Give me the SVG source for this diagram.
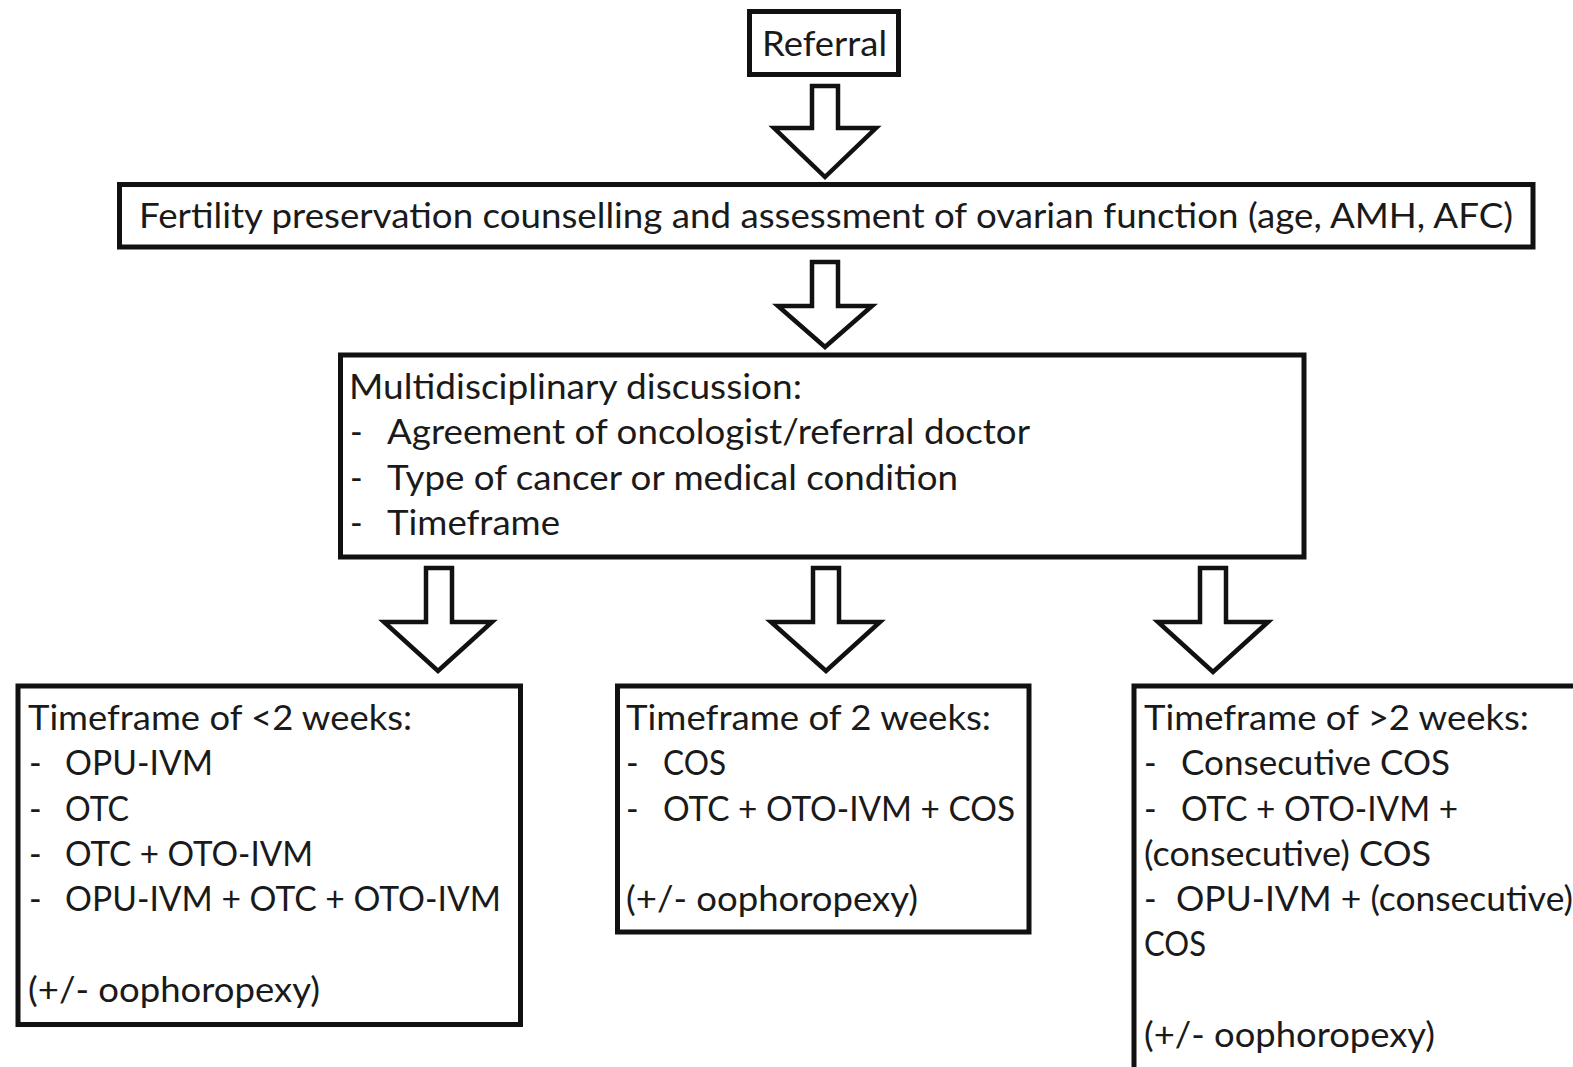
<svg xmlns="http://www.w3.org/2000/svg" width="1573" height="1067" viewBox="0 0 1573 1067">
<style>
  .box { fill: #ffffff; stroke: #111111; stroke-width: 5; }
  .arrow { fill: #ffffff; stroke: #111111; stroke-width: 4.5; stroke-linejoin: miter; }
  text { font-family: Lato, "Liberation Sans", sans-serif; font-size: 34px; fill: #1a1a1a; }
</style>
<rect width="1573" height="1067" fill="#ffffff"/>
<g id="connectors">
  <polygon class="arrow" points="812,86 838,86 838,128 876,128 825,177 774,128 812,128"/>
  <polygon class="arrow" points="812,262 838,262 838,306 872,306 825,347 778,306 812,306"/>
  <polygon class="arrow" points="426,568 452,568 452,622 492,622 438,671 384,622 426,622"/>
  <polygon class="arrow" points="813,568 839,568 839,622 880,622 826,671 771,622 813,622"/>
  <polygon class="arrow" points="1200,568 1226,568 1226,622 1268,622 1213,672 1158,622 1200,622"/>
</g>
<g id="referral">
  <rect class="box" x="749.5" y="11.5" width="149" height="63"/>
  <text x="762" y="56" textLength="125" lengthAdjust="spacingAndGlyphs">Referral</text>
</g>
<g id="counselling">
  <rect class="box" x="119.5" y="184.5" width="1413.5" height="62.5"/>
  <text x="139" y="228" textLength="1374" lengthAdjust="spacingAndGlyphs">Fertility preservation counselling and assessment of ovarian function (age, AMH, AFC)</text>
</g>
<g id="discussion">
  <rect class="box" x="340.5" y="355" width="963.5" height="202"/>
  <text x="349" y="399" textLength="453" lengthAdjust="spacingAndGlyphs">Multidisciplinary discussion:</text>
  <text x="350" y="444">-</text>
  <text x="387" y="444" textLength="643" lengthAdjust="spacingAndGlyphs">Agreement of oncologist/referral doctor</text>
  <text x="350" y="490">-</text>
  <text x="387" y="490" textLength="571" lengthAdjust="spacingAndGlyphs">Type of cancer or medical condition</text>
  <text x="350" y="535">-</text>
  <text x="387" y="535" textLength="173" lengthAdjust="spacingAndGlyphs">Timeframe</text>
</g>
<g id="under2weeks">
  <rect class="box" x="18" y="686" width="502.5" height="338.5"/>
  <text x="28" y="730" textLength="384" lengthAdjust="spacingAndGlyphs">Timeframe of &lt;2 weeks:</text>
  <text x="29" y="775">-</text>
  <text x="65" y="775" textLength="148" lengthAdjust="spacingAndGlyphs">OPU-IVM</text>
  <text x="29" y="821">-</text>
  <text x="65" y="821" textLength="64" lengthAdjust="spacingAndGlyphs">OTC</text>
  <text x="29" y="866">-</text>
  <text x="65" y="866" textLength="248" lengthAdjust="spacingAndGlyphs">OTC + OTO-IVM</text>
  <text x="29" y="911">-</text>
  <text x="65" y="911" textLength="436" lengthAdjust="spacingAndGlyphs">OPU-IVM + OTC + OTO-IVM</text>
  <text x="28" y="1002" textLength="292" lengthAdjust="spacingAndGlyphs">(+/- oophoropexy)</text>
</g>
<g id="two-weeks">
  <rect class="box" x="617.5" y="686" width="411.5" height="246"/>
  <text x="626" y="730" textLength="365" lengthAdjust="spacingAndGlyphs">Timeframe of 2 weeks:</text>
  <text x="626" y="775">-</text>
  <text x="663" y="775" textLength="63" lengthAdjust="spacingAndGlyphs">COS</text>
  <text x="626" y="821">-</text>
  <text x="663" y="821" textLength="352" lengthAdjust="spacingAndGlyphs">OTC + OTO-IVM + COS</text>
  <text x="626" y="911" textLength="292" lengthAdjust="spacingAndGlyphs">(+/- oophoropexy)</text>
</g>
<g id="over2weeks">
  <rect class="box" x="1134" y="686" width="500" height="500"/>
  <text x="1144" y="730" textLength="385" lengthAdjust="spacingAndGlyphs">Timeframe of &gt;2 weeks:</text>
  <text x="1144" y="775">-</text>
  <text x="1181" y="775" textLength="269" lengthAdjust="spacingAndGlyphs">Consecutive COS</text>
  <text x="1144" y="821">-</text>
  <text x="1181" y="821" textLength="277" lengthAdjust="spacingAndGlyphs">OTC + OTO-IVM +</text>
  <text x="1144" y="866" textLength="287" lengthAdjust="spacingAndGlyphs">(consecutive) COS</text>
  <text x="1144" y="911">-</text>
  <text x="1176" y="911" textLength="397" lengthAdjust="spacingAndGlyphs">OPU-IVM + (consecutive)</text>
  <text x="1144" y="956" textLength="62" lengthAdjust="spacingAndGlyphs">COS</text>
  <text x="1144" y="1047" textLength="291" lengthAdjust="spacingAndGlyphs">(+/- oophoropexy)</text>
</g>
</svg>
